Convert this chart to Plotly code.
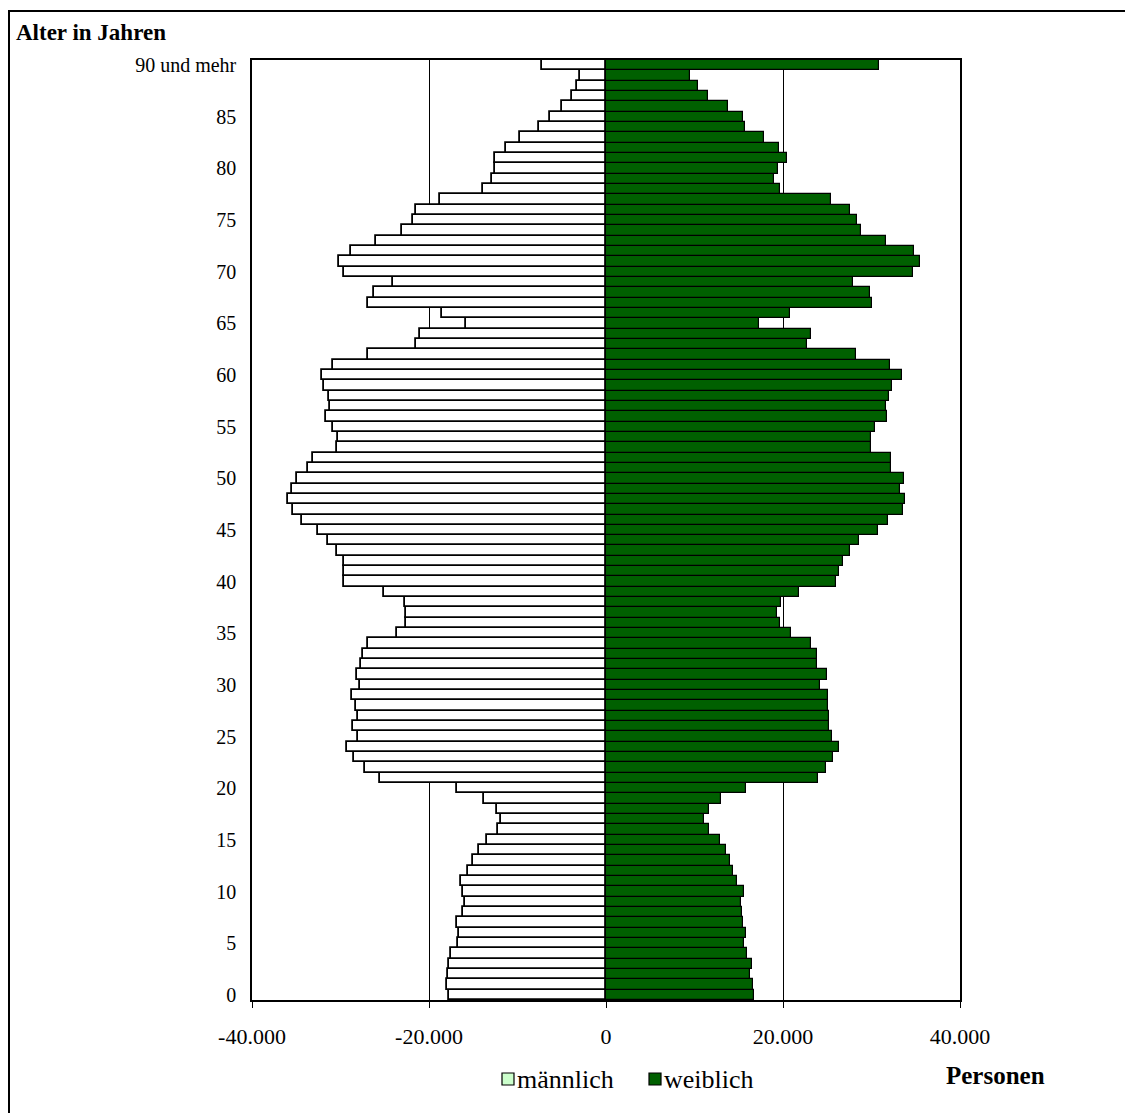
import plotly.graph_objects as go

ages = list(range(0, 91))

# male (negative), index = age 0..90
maennlich = [
    -17740, -18000, -17820, -17740, -17550, -16690, -16580, -16800, -16200, -15900,
    -16200, -16420, -15630, -15000, -14310, -13480, -12170, -11860, -12350, -13750,
    -16870, -25540, -27230, -28470, -29300, -27990, -28620, -27990, -28250, -28740,
    -27800, -28180, -27680, -27420, -26860, -23650, -22640, -22640, -22710, -25080,
    -29570, -29600, -29600, -30430, -31380, -32580, -34320, -35330, -35970, -35440,
    -34950, -33640, -33070, -30430, -30250, -30810, -31640, -31190, -31300, -31830,
    -32130, -30880, -26860, -21470, -21020, -15850, -18500, -26860, -26180, -24030,
    -29570, -30170, -28810, -25990, -23020, -21840, -21500, -18760, -13930, -12920,
    -12540, -12540, -11300, -9720, -7570, -6330, -5010, -3880, -3240, -2940,
    -7270,
]

weiblich = [
    16700, 16600, 16300, 16500, 15900, 15600, 15800, 15500, 15400, 15300,
    15600, 14800, 14300, 14000, 13600, 12900, 11680, 11110, 11680, 12990,
    15780, 23950, 24860, 25690, 26360, 25570, 25200, 25160, 25040, 25080,
    24180, 24930, 23800, 23880, 23160, 20870, 19700, 19360, 19770, 21810,
    26030, 26330, 26780, 27530, 28550, 30700, 31860, 33600, 33790, 33220,
    33710, 32240, 32240, 29980, 29940, 30430, 31710, 31640, 32010, 32320,
    33480, 32130, 28250, 22750, 23160, 17330, 20830, 30060, 29870, 27870,
    34690, 35450, 34770, 31600, 28850, 28400, 27570, 25390, 19700, 19020,
    19400, 20490, 19550, 17890, 15740, 15440, 13750, 11490, 10360, 9530,
    30850,
]

y_tickvals = [0, 5, 10, 15, 20, 25, 30, 35, 40, 45, 50, 55, 60, 65, 70, 75, 80, 85, 90]
y_ticktext = ["0", "5", "10", "15", "20", "25", "30", "35", "40", "45", "50", "55",
              "60", "65", "70", "75", "80", "85", "90 und mehr"]
x_tickvals = [-40000, -20000, 0, 20000, 40000]
x_ticktext = ["-40.000", "-20.000", "0", "20.000", "40.000"]

FONT = "Liberation Serif, Times New Roman, serif"
GREEN = "#006000"
PALE = "#ccffcc"

fig = go.Figure()
fig.add_trace(go.Bar(
    y=ages, x=maennlich, orientation="h", name="männlich", showlegend=False,
    marker=dict(color="#ffffff", line=dict(color="#000000", width=1.8)),
))
fig.add_trace(go.Bar(
    y=ages, x=weiblich, orientation="h", name="weiblich", showlegend=False,
    marker=dict(color=GREEN, line=dict(color="#000000", width=1.2)),
))

OFF = 8  # default page body margin
W, H = 1133 - OFF, 1113 - OFF
# plot area in reference pixel coordinates
RL, RR, RT, RB = 252, 960, 60, 1000
L, R, T, B = RL - OFF, RR - OFF, RT - OFF, RB - OFF
pw, ph = R - L, B - T


def px2x(px):
    return (px - OFF - L) / pw


def px2y(py):
    return (B - (py - OFF)) / ph


shapes = [
    dict(type="rect", xref="paper", yref="paper",
         x0=px2x(9), x1=px2x(1131), y0=px2y(1125), y1=px2y(11),
         line=dict(color="black", width=2), fillcolor="rgba(0,0,0,0)", layer="below"),
    # legend swatches
    dict(type="rect", xref="paper", yref="paper",
         x0=px2x(502), x1=px2x(514), y0=px2y(1085), y1=px2y(1073),
         line=dict(color="black", width=1.2), fillcolor=PALE),
    dict(type="rect", xref="paper", yref="paper",
         x0=px2x(649), x1=px2x(661), y0=px2y(1085), y1=px2y(1073),
         line=dict(color="black", width=1.2), fillcolor=GREEN),
]

annotations = [
    dict(text="<b>Alter in Jahren</b>", xref="paper", yref="paper",
         x=px2x(14), y=px2y(32), xanchor="left", yanchor="middle",
         showarrow=False, font=dict(family=FONT, size=23)),
    dict(text="<b>Personen</b>", xref="paper", yref="paper",
         x=px2x(995), y=px2y(1075), xanchor="center", yanchor="middle",
         showarrow=False, font=dict(family=FONT, size=25)),
    dict(text="männlich", xref="paper", yref="paper",
         x=px2x(515), y=px2y(1079), xanchor="left", yanchor="middle",
         showarrow=False, font=dict(family=FONT, size=26)),
    dict(text="weiblich", xref="paper", yref="paper",
         x=px2x(662), y=px2y(1079), xanchor="left", yanchor="middle",
         showarrow=False, font=dict(family=FONT, size=26)),
]

fig.update_layout(
    width=W, height=H,
    margin=dict(l=L, r=W - R, t=T, b=H - B, autoexpand=False),
    paper_bgcolor="white", plot_bgcolor="white",
    barmode="relative", bargap=0,
    font=dict(family=FONT, size=20, color="black"),
    showlegend=False,
    xaxis=dict(range=[-40000, 40000], tickvals=x_tickvals, ticktext=x_ticktext,
               showgrid=True, gridcolor="black", gridwidth=1.3,
               zeroline=True, zerolinecolor="black", zerolinewidth=1.3,
               showline=True, linecolor="black", linewidth=1.5, mirror=True,
               ticks="outside", ticklen=6, tickcolor="black", tickwidth=1.3,
               ticklabelstandoff=10,
               tickfont=dict(family=FONT, size=22), fixedrange=True),
    yaxis=dict(range=[-0.5, 90.5], tickvals=y_tickvals, ticktext=y_ticktext,
               showgrid=False, zeroline=False,
               showline=True, linecolor="black", linewidth=1.5, mirror=True,
               ticks="", ticklabelstandoff=10,
               tickfont=dict(family=FONT, size=20), fixedrange=True),
    annotations=annotations,
    shapes=shapes,
)

fig.write_html("out.html")
